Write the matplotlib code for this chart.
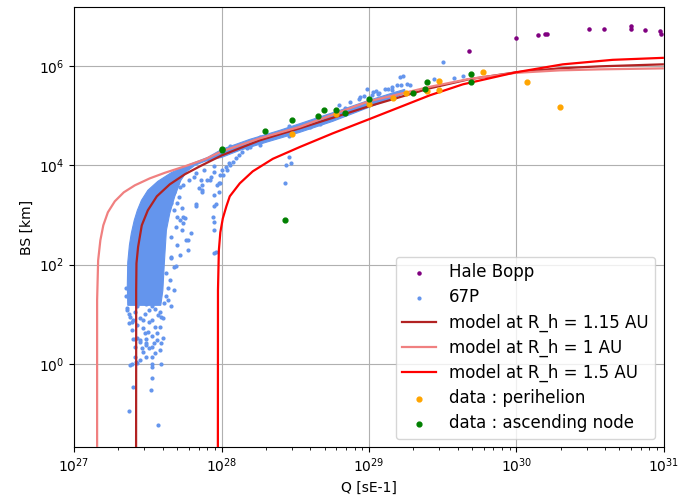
import numpy as np
import matplotlib
matplotlib.use('Agg')
import matplotlib.pyplot as plt
from matplotlib.ticker import NullLocator

# all values below are log10 of the quantity (Q in s^-1, BS in km)

# Hale Bopp
hb_logq = [29.676, 30.0, 30.146, 30.193, 30.209, 30.49, 30.596, 30.781, 30.781, 30.87, 30.973, 30.985]
hb_logbs = [6.297, 6.559, 6.626, 6.654, 6.654, 6.746, 6.746, 6.801, 6.746, 6.72, 6.706, 6.654]

# 67P: outline of the dense part of the cloud
p67_core_logq = [27.364, 27.361, 27.364, 27.375, 27.388, 27.408, 27.429, 27.457, 27.500, 27.568,
                 27.663, 27.785, 27.907, 28.002, 28.192, 28.395, 28.599, 28.803, 29.000, 29.175,
                 29.243, 29.243, 29.175, 29.000, 28.755, 28.531, 28.301, 28.124, 28.002, 27.887,
                 27.819, 27.765, 27.724, 27.683, 27.649, 27.626, 27.612, 27.602, 27.588]
p67_core_logbs = [1.179, 1.582, 2.045, 2.388, 2.630, 2.892, 3.093, 3.295, 3.496, 3.678,
                  3.859, 4.020, 4.161, 4.322, 4.524, 4.705, 4.907, 5.108, 5.310, 5.471,
                  5.531, 5.451, 5.370, 5.169, 4.887, 4.665, 4.463, 4.302, 4.161, 4.081,
                  4.000, 3.879, 3.698, 3.375, 3.033, 2.690, 2.025, 1.481, 1.179]

# 67P: single points around the dense part
p67_logq = [27.66, 27.60, 27.58, 27.60, 27.56, 27.53, 27.49, 27.47, 27.53, 27.45, 27.53, 27.59, 27.43,
            27.39, 27.53, 27.40, 27.52, 27.37, 27.57, 27.49, 27.56, 27.55, 27.48, 27.45, 27.41, 27.39,
            27.36, 27.38, 27.40, 27.43, 27.47, 27.50, 27.53, 27.57, 27.43, 27.46, 27.49, 27.58, 27.37,
            27.36, 27.41, 27.45, 27.48, 27.51, 27.55, 27.58, 27.39, 27.51, 27.53, 27.41, 27.49, 27.37,
            27.40, 27.45, 27.51, 27.54, 27.59, 27.55, 27.41, 27.38, 27.42, 27.53, 27.59, 27.47,
            27.38, 27.43, 27.49, 27.53, 27.61, 27.62, 27.64, 27.35, 27.35,
            27.70, 27.72, 27.74, 27.78, 27.81, 27.83, 27.86, 27.88, 27.90, 27.93, 27.95, 27.85, 27.87,
            27.68, 27.70, 27.72, 27.74, 27.66, 27.73, 27.76, 27.66, 27.69, 27.83, 27.95, 27.96, 27.97,
            27.98, 27.99, 28.00, 28.03, 28.05, 27.74, 27.69, 27.73, 27.70, 27.71, 27.66, 27.66, 27.68,
            27.94, 27.95, 27.96, 27.83, 27.95, 27.95, 27.95, 27.75, 27.77, 27.66, 27.68, 27.62,
            27.95, 27.87, 27.92, 27.99, 28.01, 28.04, 28.06, 28.08, 28.10, 28.12, 28.14, 28.17, 28.19,
            27.87, 27.98, 27.70, 27.77, 27.72, 27.65, 27.68, 27.64, 27.79,
            28.46, 28.47, 28.44, 28.43, 28.60, 28.94, 28.99, 29.03, 29.05, 29.07, 29.11, 29.13, 29.16,
            29.16, 29.19, 29.21, 29.23, 29.22, 29.26, 29.28, 29.44, 29.50, 29.58, 29.64, 28.80, 28.87,
            28.93, 28.97, 29.02, 29.06, 28.06, 28.26, 28.46, 28.67, 28.84, 28.26, 28.46, 28.67]
p67_logbs = [1.16, 0.92, 0.74, 0.53, 0.47, 0.33, 0.41, 0.23, 0.13, 0.07, -0.01, -0.01, 0.01,
             -0.01, -0.07, -0.47, -0.53, -0.96, -1.24, 0.13, 0.62, 0.74, 0.62, 0.47, 0.33, 0.68,
             1.08, 0.94, 0.88, 0.78, 0.72, 0.64, 0.88, 0.98, 0.53, 0.31, 0.51, 0.27, 1.00,
             1.12, 1.04, 0.92, 1.00, 1.08, 1.10, 1.04, 0.84, 0.84, 0.56, 0.49, 0.37, 0.82,
             0.51, 0.43, 0.31, 0.41, 0.41, 0.21, 0.13, -0.03, 0.03, -0.29, 0.94, 0.88,
             1.24, 1.16, 1.20, 1.16, 1.22, 1.36, 1.52, 1.36, 1.52,
             3.64, 3.56, 3.60, 3.70, 3.76, 3.84, 3.70, 3.90, 3.70, 3.76, 3.86, 3.54, 3.50,
             3.09, 2.95, 2.89, 2.83, 2.55, 2.69, 2.49, 2.15, 1.98, 3.23, 3.40, 3.23, 3.60,
             3.64, 3.80, 3.90, 3.96, 4.04, 2.95, 2.75, 3.13, 3.25, 3.36, 3.25, 3.40, 3.46,
             2.95, 2.69, 2.25, 3.19, 3.19, 2.85, 2.23, 2.93, 2.49, 2.13, 1.96, 1.84,
             3.98, 3.60, 3.70, 3.64, 3.80, 3.90, 4.00, 4.06, 4.14, 4.20, 4.26, 4.34, 4.36,
             3.46, 3.46, 2.39, 2.29, 2.19, 1.68, 1.48, 1.28, 2.63,
             4.16, 4.04, 4.00, 3.64, 4.77, 5.37, 5.53, 5.47, 5.49, 5.45, 5.53, 5.53, 5.57,
             5.51, 5.61, 5.79, 5.81, 5.61, 5.63, 5.61, 5.73, 6.08, 5.77, 5.81, 5.21, 5.27,
             5.33, 5.39, 5.41, 5.43, 4.38, 4.58, 4.79, 4.97, 5.15, 4.40, 4.60, 4.83]

# model at R_h = 1.15 AU
m115_logq = [27.420, 27.421, 27.421, 27.423, 27.434, 27.459, 27.500, 27.561, 27.649, 27.751, 27.853,
             28.002, 28.260, 28.531, 28.999, 29.413, 29.677, 29.996, 30.288, 30.566, 30.994]
m115_logbs = [-3.0, 0.0, 1.481, 2.025, 2.354, 2.791, 3.093, 3.375, 3.617, 3.819, 3.980,
              4.201, 4.504, 4.746, 5.189, 5.552, 5.733, 5.874, 5.954, 5.995, 6.035]

# model at R_h = 1 AU
m1_logq = [27.156, 27.156, 27.163, 27.178, 27.198, 27.229, 27.276, 27.337, 27.412, 27.514, 27.615,
           27.751, 27.887, 28.002, 28.260, 28.531, 28.999, 29.413, 29.684, 29.996, 30.294, 30.566, 30.994]
m1_logbs = [-3.0, 1.280, 2.086, 2.489, 2.791, 3.053, 3.275, 3.456, 3.597, 3.738, 3.849,
            3.980, 4.121, 4.282, 4.544, 4.776, 5.290, 5.582, 5.743, 5.864, 5.914, 5.934, 5.954]

# model at R_h = 1.5 AU
m15_logq = [27.975, 27.976, 27.982, 27.992, 28.009, 28.033, 28.056, 28.124, 28.212, 28.348, 28.531,
            28.755, 28.999, 29.413, 29.637, 29.996, 30.315, 30.654, 30.994]
m15_logbs = [-3.0, 1.481, 2.287, 2.650, 2.932, 3.174, 3.375, 3.637, 3.879, 4.131, 4.369,
             4.645, 4.927, 5.411, 5.632, 5.874, 6.035, 6.126, 6.166]

# data : perihelion
peri_logq = [28.477, 28.775, 29.001, 29.164, 29.250, 29.396, 29.476, 29.476, 29.775, 30.071, 30.297]
peri_logbs = [4.639, 5.042, 5.243, 5.356, 5.457, 5.507, 5.525, 5.697, 5.888, 5.672, 5.169]

# data : ascending node
asc_logq = [28.002, 28.002, 28.298, 28.479, 28.655, 28.696, 28.775, 28.840, 29.001, 29.300, 29.381,
            29.397, 29.696, 29.696, 28.429]
asc_logbs = [4.337, 4.302, 4.691, 4.907, 4.993, 5.108, 5.122, 5.054, 5.340, 5.457, 5.545,
             5.672, 5.840, 5.687, 2.892]


def tolin(v):
    return 10.0 ** np.array(v)


fig, ax = plt.subplots(figsize=(6.8, 5.03), dpi=100)
fig.subplots_adjust(left=0.109, right=0.976, bottom=0.111, top=0.986)

ax.scatter(tolin(hb_logq), tolin(hb_logbs), s=5, color='purple', label='Hale Bopp', zorder=2)
ax.fill(tolin(p67_core_logq), tolin(p67_core_logbs), color='cornflowerblue', lw=0.8, zorder=2)
ax.scatter(tolin(p67_logq), tolin(p67_logbs), s=4, color='cornflowerblue', label='67P', zorder=2)
ax.plot(tolin(m115_logq), tolin(m115_logbs), color='firebrick', lw=1.6, label='model at R_h = 1.15 AU', zorder=3)
ax.plot(tolin(m1_logq), tolin(m1_logbs), color='lightcoral', lw=1.6, label='model at R_h = 1 AU', zorder=3)
ax.plot(tolin(m15_logq), tolin(m15_logbs), color='red', lw=1.6, label='model at R_h = 1.5 AU', zorder=3)
ax.scatter(tolin(peri_logq), tolin(peri_logbs), s=12, color='orange', label='data : perihelion', zorder=4)
ax.scatter(tolin(asc_logq), tolin(asc_logbs), s=12, color='green', label='data : ascending node', zorder=4)

ax.set_xscale('log')
ax.set_yscale('log')
ax.set_xlim(1e27, 1e31)
ax.set_ylim(10 ** -1.68, 10 ** 7.19)
ax.set_yticks([1e0, 1e2, 1e4, 1e6])
ax.yaxis.set_minor_locator(NullLocator())
ax.grid(True)
ax.set_axisbelow(True)
ax.set_xlabel('Q [sE-1]')
ax.set_ylabel('BS [km]')
ax.legend(loc='lower right', fontsize=12, labelspacing=0.42)

fig.savefig('out.png', dpi=100)
